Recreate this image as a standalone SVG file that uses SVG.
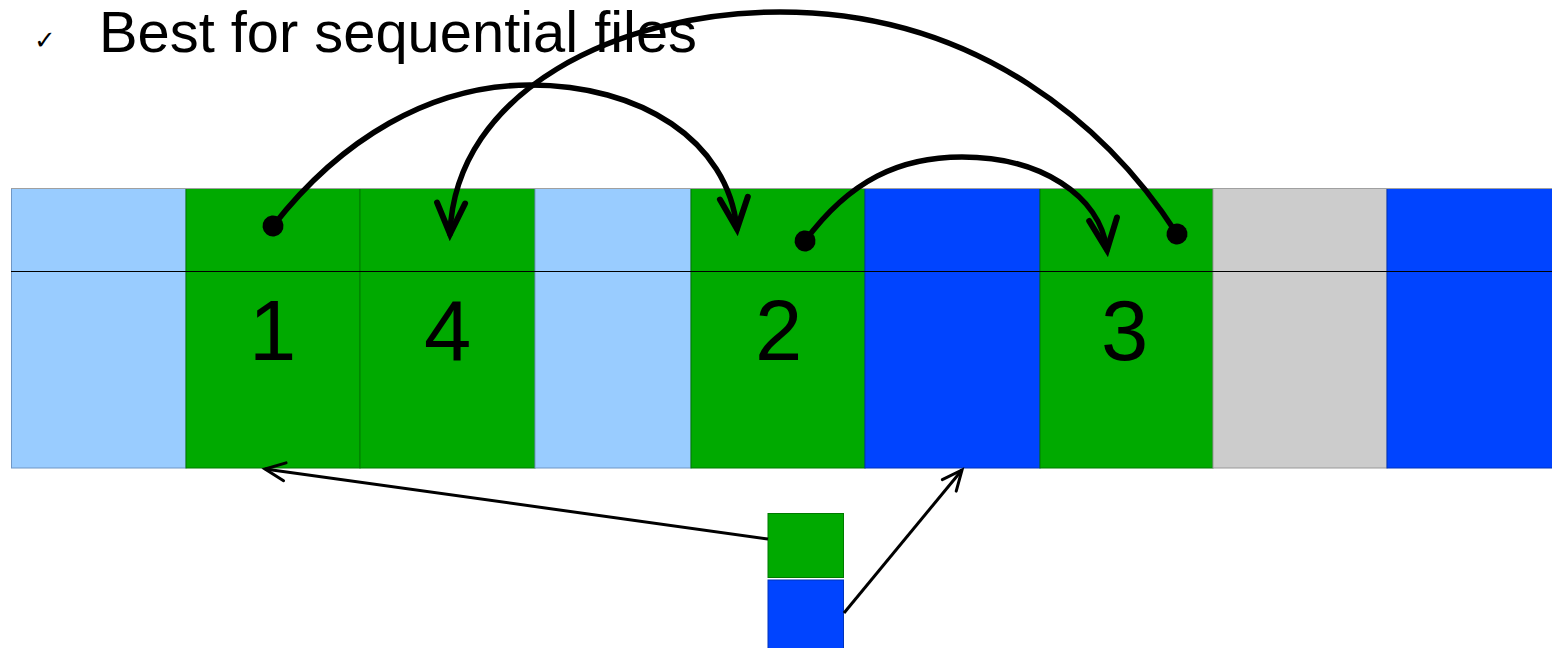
<svg xmlns="http://www.w3.org/2000/svg" width="1552" height="648" viewBox="0 0 1552 648">
  <style>
    .lb { fill: #99ccff; stroke: #6f97c6; stroke-width: 1; }
    .gr { fill: #00aa00; stroke: #007a00; stroke-width: 1; }
    .bl { fill: #0044ff; stroke: #0033bb; stroke-width: 1; }
    .gy { fill: #cccccc; stroke: #999999; stroke-width: 1; }
    .num { font-family: "Liberation Sans", Arial, sans-serif; font-size: 85px; fill: #000000; }
    .title { font-family: "Liberation Sans", Arial, sans-serif; font-size: 57px; fill: #000000; }
    .arc { fill: none; stroke: #000000; stroke-width: 5.5; stroke-linecap: round; }
    .ptr { fill: none; stroke: #000000; stroke-width: 3; }
  </style>
  <defs>
    <marker id="headBig" markerUnits="userSpaceOnUse" markerWidth="60" markerHeight="60" viewBox="-40 -30 60 60" refX="0" refY="0" orient="auto" overflow="visible">
      <path d="M-31,-14 L0,0 L-31,14" fill="none" stroke="#000000" stroke-width="6" stroke-linecap="round" stroke-linejoin="miter"/>
    </marker>
    <marker id="dot" markerUnits="userSpaceOnUse" markerWidth="30" markerHeight="30" viewBox="-15 -15 30 30" refX="0" refY="0" orient="auto" overflow="visible">
      <circle cx="0" cy="0" r="10.5" fill="#000000"/>
    </marker>
    <marker id="headSmall" markerUnits="userSpaceOnUse" markerWidth="40" markerHeight="40" viewBox="-30 -20 40 40" refX="0" refY="0" orient="auto" overflow="visible">
      <path d="M-20,-9 L0,0 L-20,9" fill="none" stroke="#000000" stroke-width="3" stroke-linecap="round"/>
    </marker>
  </defs>

  <g id="title">
    <text x="34" y="49" font-family="DejaVu Sans, sans-serif" font-size="26">✓</text>
    <text class="title" x="99" y="52" textLength="598" lengthAdjust="spacingAndGlyphs">Best for sequential files</text>
  </g>

  <g id="disk">
    <g id="cell-0"><rect class="lb" x="11.5" y="188.5" width="174.5" height="279.5"/></g>
    <g id="cell-1"><rect class="gr" x="186" y="188.5" width="174" height="279.5"/><text class="num" x="249" y="360">1</text></g>
    <g id="cell-2"><rect class="gr" x="360" y="188.5" width="175" height="279.5"/><text class="num" x="424" y="360">4</text></g>
    <g id="cell-3"><rect class="lb" x="535" y="188.5" width="156" height="279.5"/></g>
    <g id="cell-4"><rect class="gr" x="691" y="188.5" width="174" height="279.5"/><text class="num" x="755" y="360">2</text></g>
    <g id="cell-5"><rect class="bl" x="865" y="188.5" width="175" height="279.5"/></g>
    <g id="cell-6"><rect class="gr" x="1040" y="188.5" width="173" height="279.5"/><text class="num" x="1101" y="360">3</text></g>
    <g id="cell-7"><rect class="gy" x="1213" y="188.5" width="174" height="279.5"/></g>
    <g id="cell-8"><rect class="bl" x="1387" y="188.5" width="170" height="279.5"/></g>
    <line x1="11" y1="188.5" x2="1552" y2="188.5" stroke="#a0a0a0" stroke-width="1"/>
    <line x1="11" y1="271.5" x2="1552" y2="271.5" stroke="#000000" stroke-width="1.2"/>
  </g>

  <g id="free-green"><rect class="gr" x="768" y="513.5" width="75.5" height="64"/></g>
  <g id="free-blue"><rect class="bl" x="768" y="580" width="75.5" height="70"/></g>

  <g id="connectors">
    <path class="arc" d="M273,226 C340,140 430,85 530,85 C640,85 728,140 737,229" marker-start="url(#dot)" marker-end="url(#headBig)"/>
    <path class="arc" d="M805,241 C850,180 900,157 962,157 C1040,157 1100,195 1107,250" marker-start="url(#dot)" marker-end="url(#headBig)"/>
    <path class="arc" d="M1177,234 C1110,130 980,12 780,12 C620,12 455,90 450,234" marker-start="url(#dot)" marker-end="url(#headBig)"/>
    <line class="ptr" x1="768" y1="539" x2="265" y2="469" marker-end="url(#headSmall)"/>
    <line class="ptr" x1="844" y1="613" x2="962" y2="470" marker-end="url(#headSmall)"/>
  </g>
</svg>
